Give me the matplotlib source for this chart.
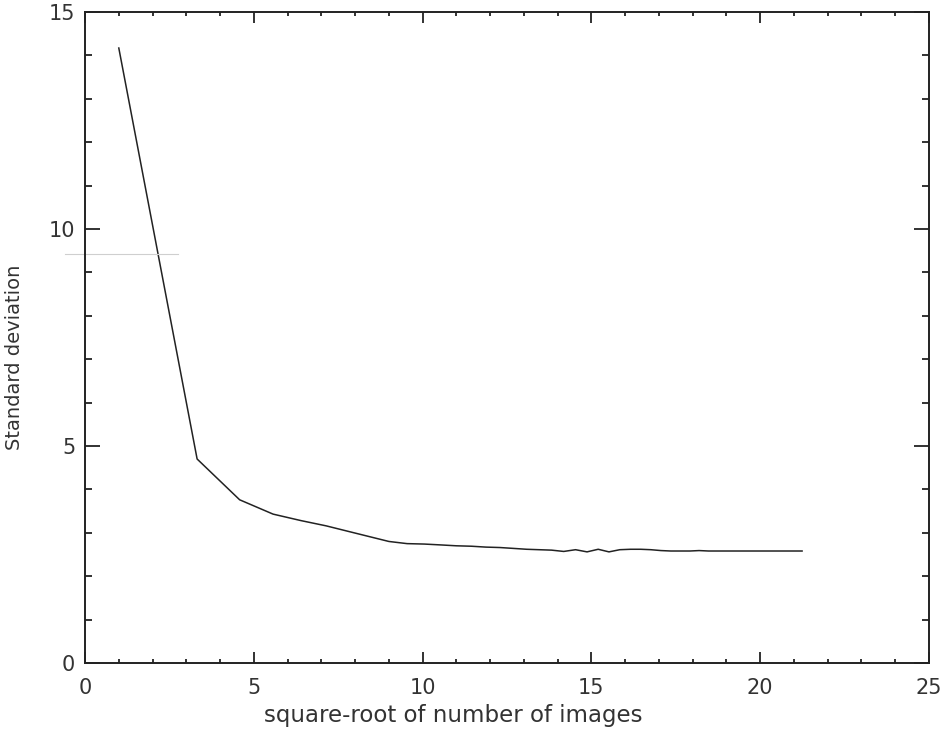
import matplotlib.pyplot as plt
from matplotlib.ticker import MultipleLocator

# sqrt(number of images) and the measured standard deviation
sqrt_n = [1.00, 3.32, 4.58, 5.57, 6.40, 7.14, 7.81, 8.43, 9.00, 9.54,
          10.05, 10.54, 11.00, 11.45, 11.87, 12.29, 12.69, 13.08, 13.45, 13.82,
          14.18, 14.53, 14.87, 15.20, 15.52, 15.84, 16.16, 16.46, 16.76, 17.06,
          17.35, 17.64, 17.92, 18.19, 18.47, 18.73, 19.00, 19.26, 19.52, 19.77,
          20.02, 20.27, 20.52, 20.76, 21.00, 21.24]
std_dev = [14.17, 4.70, 3.76, 3.43, 3.28, 3.16, 3.03, 2.91, 2.80, 2.75,
           2.74, 2.72, 2.70, 2.69, 2.67, 2.66, 2.64, 2.62, 2.61, 2.60,
           2.57, 2.61, 2.56, 2.62, 2.56, 2.61, 2.62, 2.62, 2.61, 2.59,
           2.58, 2.58, 2.58, 2.59, 2.58, 2.58, 2.58, 2.58, 2.58, 2.58,
           2.58, 2.58, 2.58, 2.58, 2.58, 2.58]

ink = "#222222"
txt = "#333333"

fig = plt.figure(figsize=(9.47, 7.32), dpi=100)
ax = fig.add_axes([0.0898, 0.0943, 0.8912, 0.8893])

ax.plot(sqrt_n, std_dev, color=ink, linewidth=1.1)

# faint scan streak left of the axis
ax.plot([-0.6, 2.75], [9.42, 9.42], color="#cfcfcf", linewidth=0.8, clip_on=False)

ax.set_xlim(0, 25)
ax.set_ylim(0, 15)
ax.xaxis.set_major_locator(MultipleLocator(5))
ax.xaxis.set_minor_locator(MultipleLocator(1))
ax.yaxis.set_major_locator(MultipleLocator(5))
ax.yaxis.set_minor_locator(MultipleLocator(1))

ax.tick_params(axis="both", which="both", direction="in", top=True, right=True,
               color=ink, width=1.3, labelsize=15, labelcolor=txt)
ax.tick_params(axis="x", which="major", length=8, pad=11)
ax.tick_params(axis="x", which="minor", length=3)
ax.tick_params(axis="y", which="major", length=10.5, pad=7)
ax.tick_params(axis="y", which="minor", length=5)

for s in ax.spines.values():
    s.set_color(ink)
    s.set_linewidth(1.4)

ax.set_xlabel("square-root of number of images", fontsize=16.5, color=txt)
ax.set_ylabel("Standard deviation", fontsize=14, color=txt)
ax.xaxis.set_label_coords(0.436, -0.063)
ax.yaxis.set_label_coords(-0.072, 0.47)

fig.savefig("out.png", dpi=100)
